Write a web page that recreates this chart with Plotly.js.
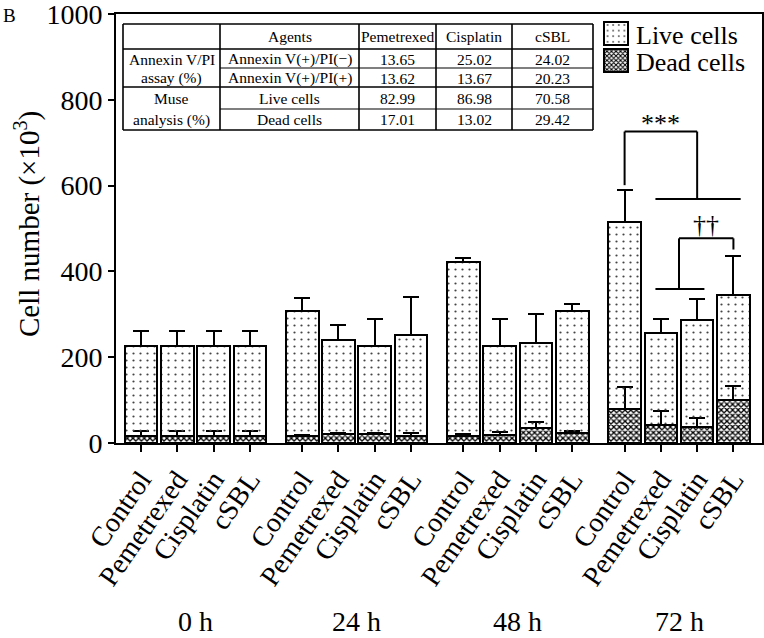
<!DOCTYPE html>
<html><head><meta charset="utf-8">
<script src="https://cdn.plot.ly/plotly-3.0.1.min.js"></script>
<style>html,body{margin:0;padding:0;background:#fff}#chart{width:764px;height:638px}</style>
</head><body><div id="chart"></div>
<script>
// ---------- data ----------
const categories = ['Control', 'Pemetrexed', 'Cisplatin', 'cSBL'];
const timepoints = ['0 h', '24 h', '48 h', '72 h'];
// stacked segment heights (x10^3 cells), order: timepoint then agent
const liveCells = [211, 211, 211, 211,  292, 218, 205, 235,  405, 206, 198, 283,  436, 214, 250, 243];
const deadCells = [16, 16, 16, 16,      16, 21, 22, 17,      17, 19, 35, 24,      79, 42, 37, 101];
const liveErr   = [34, 34, 34, 34,      29, 37, 61, 88,      9, 63, 67, 17,       75, 32, 48, 91];
const deadErr   = [12, 12, 12, 12,      2, 3, 1, 6,          4, 6, 14, 5,         52, 32, 22, 33];
const yTicks = [0, 200, 400, 600, 800, 1000];

// inset table
const tableHeader = ['', 'Agents', 'Pemetrexed', 'Cisplatin', 'cSBL'];
const tableGroupLines = ['Annexin V/PI', 'assay (%)', 'Muse', 'analysis (%)'];
const tableRowLabels = ['Annexin V(+)/PI(\u2212)', 'Annexin V(+)/PI(+)', 'Live cells', 'Dead cells'];
const tablePemetrexed = [13.65, 13.62, 82.99, 17.01];
const tableCisplatin  = [25.02, 13.67, 86.98, 13.02];
const tableCSBL       = [24.02, 20.23, 70.58, 29.42];

// ---------- layout helpers ----------
const W = 764, H = 638, M = {l: 116, r: 2, t: 14, b: 195};
const PW = W - M.l - M.r, PH = H - M.t - M.b;
const pxX = px => (px - M.l) / PW;
const pxY = py => (H - M.b - py) / PH;
const FONT = 'Liberation Serif, Times New Roman, serif';

const GAP = 0.444;
const xPos = [], tickText = [];
timepoints.forEach((t, g) => categories.forEach((c, i) => {
  xPos.push(g * (categories.length + GAP) + i);
  tickText.push(c);
}));
const zeros = xPos.map(() => 0);

const traces = [
  {
    type: 'bar', name: 'Dead cells', x: xPos, y: deadCells, width: 0.9, legend: 'legend2',
    marker: {color: '#fff', line: {color: '#000', width: 2},
      pattern: {shape: 'x', size: 4, solidity: 0.55, fgcolor: '#000', bgcolor: '#fff'}},
    error_y: {type: 'data', symmetric: false, array: deadErr, arrayminus: zeros, color: '#000', thickness: 2, width: 8},
    hoverinfo: 'skip'
  },
  {
    type: 'bar', name: 'Live cells', x: xPos, y: liveCells, width: 0.9, legend: 'legend',
    marker: {color: 'rgba(0,0,0,0)', line: {color: '#000', width: 2},
      pattern: {shape: '.', size: 7, solidity: 0.08, fgcolor: '#444', bgcolor: 'rgba(0,0,0,0)'}},
    error_y: {type: 'data', symmetric: false, array: liveErr, arrayminus: zeros, color: '#000', thickness: 2, width: 8},
    hoverinfo: 'skip'
  }
];

const annotations = [];
const shapes = [];

// group labels
timepoints.forEach((t, g) => {
  const c = (xPos[g * 4] + xPos[g * 4 + 3]) / 2;
  annotations.push({text: t, x: c, xref: 'x', y: pxY(621), yref: 'paper', yanchor: 'middle',
    showarrow: false, font: {family: FONT, size: 28, color: '#000'}});
});

// y-axis title
annotations.push({text: 'Cell number (\u00d710<sup>3</sup>)', textangle: -90, x: pxX(28), xref: 'paper',
  y: pxY(224), yref: 'paper', xanchor: 'center', yanchor: 'middle', showarrow: false,
  font: {family: FONT, size: 29, color: '#000'}});

// panel letter
annotations.push({text: 'B', x: pxX(9), xref: 'paper', y: pxY(16), yref: 'paper', xanchor: 'center', yanchor: 'middle',
  showarrow: false, font: {family: FONT, size: 19, color: '#000'}});

// table
const colE = [123, 220, 359, 436, 512, 593];
const rowE = [24, 49, 68, 87, 109, 130];
const line = (x0, y0, x1, y1, w) => shapes.push({type: 'line', xref: 'paper', yref: 'paper',
  x0: pxX(x0), y0: pxY(y0), x1: pxX(x1), y1: pxY(y1), line: {color: '#000', width: w}});
[0, 1, 3, 5].forEach(r => line(colE[0], rowE[r], colE[5], rowE[r], 1.6));
[2, 4].forEach(r => line(colE[1], rowE[r], colE[5], rowE[r], 1.1));
colE.forEach(x => line(x, rowE[0], x, rowE[5], 1.6));
const tfont = {family: FONT, size: 15.5, color: '#000'};
const cell = (txt, c, r) => annotations.push({text: txt, xref: 'paper', yref: 'paper',
  x: pxX((colE[c] + colE[c + 1]) / 2), y: pxY((rowE[r] + rowE[r + 1]) / 2 + 0.5),
  xanchor: 'center', yanchor: 'middle', showarrow: false, font: tfont});
tableHeader.forEach((t, c) => { if (t) cell(t, c, 0); });
tableGroupLines.forEach((t, r) => cell(t, 0, r + 1));
tableRowLabels.forEach((t, r) => cell(t, 1, r + 1));
[tablePemetrexed, tableCisplatin, tableCSBL].forEach((arr, k) =>
  arr.forEach((v, r) => cell(v.toFixed(2), k + 2, r + 1)));

// significance brackets (72 h group)
const ctl = xPos[12], pem = xPos[13], cis = xPos[14], csb = xPos[15];
const dline = (x0, y0, x1, y1) => shapes.push({type: 'line', xref: 'x', yref: 'y',
  x0, y0, x1, y1, line: {color: '#000', width: 2}});
dline(ctl, 601, ctl, 726); dline(ctl, 726, cis, 726); dline(cis, 726, cis, 569);
dline(pem - 0.15, 569, csb + 0.2, 569);
const mid = (pem + cis) / 2;
dline(mid, 477, csb, 477); dline(csb, 477, csb, 451); dline(mid, 477, mid, 359);
dline(pem - 0.15, 359, cis + 0.2, 359);
annotations.push({text: '***', x: (ctl + cis) / 2, y: 726, xref: 'x', yref: 'y', yanchor: 'bottom',
  yshift: -8, showarrow: false, font: {family: FONT, size: 26, color: '#000'}});
annotations.push({text: '\u2020\u2020', x: (mid + csb) / 2, y: 477, xref: 'x', yref: 'y', yanchor: 'bottom',
  yshift: -3, showarrow: false, font: {family: FONT, size: 26, color: '#000'}});

const layout = {
  width: W, height: H, margin: M,
  paper_bgcolor: '#fff', plot_bgcolor: '#fff',
  barmode: 'stack',
  font: {family: FONT, color: '#000'},
  xaxis: {range: [-0.69, 17.12], tickmode: 'array', tickvals: xPos, ticktext: tickText, tickangle: -55,
    tickfont: {family: FONT, size: 28, color: '#000'}, ticks: 'outside', ticklen: 7, tickwidth: 2, tickcolor: '#000',
    showline: true, linewidth: 2, linecolor: '#000', mirror: true, showgrid: false, zeroline: false},
  yaxis: {range: [0, 1000], tickmode: 'array', tickvals: yTicks, ticktext: yTicks.map(String),
    ticklabeloverflow: 'allow',
    tickfont: {family: FONT, size: 28, color: '#000'}, ticks: 'outside', ticklen: 6, tickwidth: 2, tickcolor: '#000',
    showline: true, linewidth: 2, linecolor: '#000', mirror: true, showgrid: false, zeroline: false},
  legend: {x: pxX(596), y: pxY(10), xanchor: 'left', yanchor: 'top', bgcolor: 'rgba(0,0,0,0)', borderwidth: 0,
    font: {family: FONT, size: 26, color: '#000'}},
  legend2: {x: pxX(596), y: pxY(37), xanchor: 'left', yanchor: 'top', bgcolor: 'rgba(0,0,0,0)', borderwidth: 0,
    font: {family: FONT, size: 26, color: '#000'}},
  showlegend: true,
  annotations, shapes
};

Plotly.newPlot('chart', traces, layout, {staticPlot: true, displayModeBar: false}).then(gd => {
  gd.querySelectorAll('g.legendpoints path').forEach(p => p.setAttribute('d', 'M12,11.5H-12V-11.5H12Z'));
});
</script>
</body></html>
